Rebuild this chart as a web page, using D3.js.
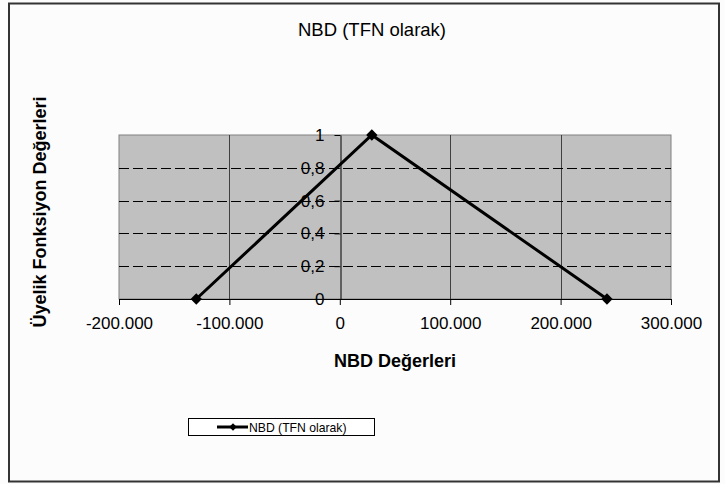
<!DOCTYPE html>
<html><head><meta charset="utf-8">
<script src="https://cdn.jsdelivr.net/npm/d3@7/dist/d3.min.js"></script>
<style>
html,body{margin:0;padding:0;background:#fff;}
text{font-family:"Liberation Sans",Arial,sans-serif;}
</style></head>
<body><svg id="c" width="725" height="484"></svg>
<script>
const chartTitle = "NBD (TFN olarak)";
const xTitle = "NBD Değerleri";
const yTitle = "Üyelik Fonksiyon Değerleri";
const seriesName = "NBD (TFN olarak)";
const xValues = [-130000, 29000, 242000];
const yValues = [0, 1, 0];
const xTicks = [-200000, -100000, 0, 100000, 200000, 300000];
const yTicks = [0, 0.2, 0.4, 0.6, 0.8, 1];

const loc = d3.formatLocale({decimal: ",", thousands: ".", grouping: [3], currency: ["", ""], minus: "-"});
const fmtX = loc.format(",");
const fmtY = loc.format("~g");

const svg = d3.select("#c");
svg.append("rect").attr("x",0).attr("y",0).attr("width",725).attr("height",484).attr("fill","#fcfcfc");
svg.append("rect").attr("x",9).attr("y",3.5).attr("width",710).attr("height",478)
  .attr("fill","#fcfcfc").attr("stroke","#333").attr("stroke-width",2);

const x = d3.scaleLinear().domain([-200000, 300000]).range([119, 671]);
const y = d3.scaleLinear().domain([0, 1]).range([299, 135]);

// plot area
svg.append("rect").attr("x", x(-200000)).attr("y", y(1)).attr("width", x(300000)-x(-200000)).attr("height", y(0)-y(1))
  .attr("fill","#c0c0c0").attr("stroke","#808080").attr("stroke-width",1);

// vertical gridlines
svg.append("g").selectAll("line").data(xTicks.filter(d => d !== 0 && d !== -200000 && d !== 300000)).join("line")
  .attr("x1", d => Math.round(x(d))+0.5).attr("x2", d => Math.round(x(d))+0.5)
  .attr("y1", y(1)).attr("y2", y(0)).attr("stroke","#404040").attr("stroke-width",1);

// horizontal dashed gridlines
svg.append("g").selectAll("line").data(yTicks.filter(d => d > 0 && d < 1)).join("line")
  .attr("x1", x(-200000)).attr("x2", x(300000))
  .attr("y1", d => Math.round(y(d))+0.5).attr("y2", d => Math.round(y(d))+0.5)
  .attr("stroke","#000").attr("stroke-width",1).attr("stroke-dasharray","10,4");

// x axis
const xAxis = svg.append("g").attr("transform", `translate(0,${y(0)})`)
  .call(d3.axisBottom(x).tickValues(xTicks).tickFormat(fmtX).tickSizeInner(6).tickSizeOuter(6).tickPadding(12));
xAxis.select(".domain").attr("stroke","#000");
xAxis.selectAll(".tick line").attr("stroke","#000");
xAxis.selectAll("text").attr("font-size", 17).attr("fill","#000").style("font-family","'Liberation Sans',Arial,sans-serif");

// y axis
const yAxis = svg.append("g").attr("transform", `translate(${Math.round(x(0))+0.5},0)`)
  .call(d3.axisLeft(y).tickValues(yTicks).tickFormat(fmtY).tickSizeInner(6).tickSizeOuter(0).tickPadding(10));
yAxis.select(".domain").attr("stroke","#000");
yAxis.selectAll(".tick line").attr("stroke","#000");
yAxis.selectAll("text").attr("font-size", 17).attr("fill","#000").style("font-family","'Liberation Sans',Arial,sans-serif");

// series line
const pts = xValues.map((v,i) => [v, yValues[i]]);
svg.append("path").datum(pts)
  .attr("d", d3.line().x(d => x(d[0])).y(d => y(d[1])))
  .attr("fill","none").attr("stroke","#000").attr("stroke-width",3);
svg.append("g").selectAll("path").data(pts).join("path")
  .attr("d", d3.symbol(d3.symbolSquare, 64))
  .attr("transform", d => `translate(${x(d[0])},${y(d[1])}) rotate(45)`)
  .attr("fill","#000");

// titles
svg.append("text").attr("x", 372).attr("y", 36).attr("text-anchor","middle").attr("font-size",18.5).text(chartTitle);
svg.append("text").attr("x", 395).attr("y", 367).attr("text-anchor","middle").attr("font-size",18).attr("font-weight","bold").text(xTitle);
svg.append("text").attr("transform","translate(46,212) rotate(-90)").attr("text-anchor","middle").attr("font-size",18).attr("font-weight","bold").text(yTitle);

// legend
const lg = svg.append("g");
lg.append("rect").attr("x",188.5).attr("y",418.5).attr("width",186).attr("height",17).attr("fill","#fff").attr("stroke","#000").attr("stroke-width",1);
lg.append("line").attr("x1",217).attr("x2",248).attr("y1",427).attr("y2",427).attr("stroke","#000").attr("stroke-width",3);
lg.append("path").attr("d", d3.symbol(d3.symbolSquare, 28)).attr("transform","translate(233,427) rotate(45)").attr("fill","#000");
lg.append("text").attr("x",249).attr("y",431.5).attr("font-size",12.2).text(seriesName);
</script></body></html>
